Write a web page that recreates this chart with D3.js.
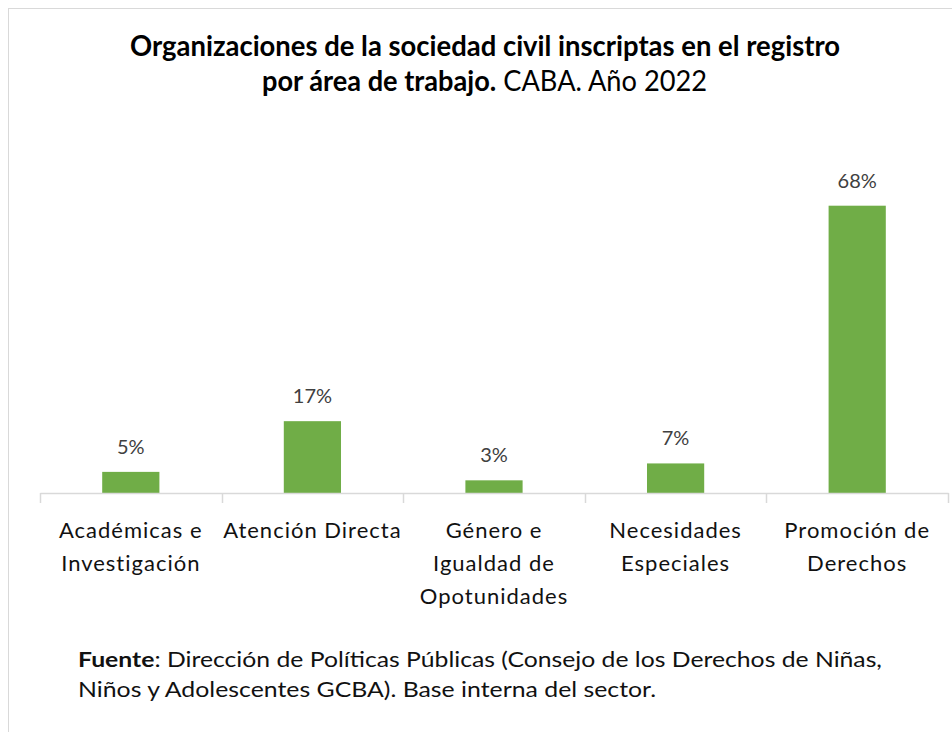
<!DOCTYPE html>
<html>
<head>
<meta charset="utf-8">
<script src="https://cdn.jsdelivr.net/npm/d3@7"></script>
<style>
  body { margin: 0; background: #fff; }
  svg { display: block; font-family: Lato, "Open Sans", sans-serif; }
</style>
</head>
<body>
<div id="chart"></div>
<script>
const categories = [
    ["Académicas e", "Investigación"],
    ["Atención Directa"],
    ["Género e", "Igualdad de", "Opotunidades"],
    ["Necesidades", "Especiales"],
    ["Promoción de", "Derechos"],
];
const values = [0.05, 0.17, 0.03, 0.07, 0.68];
const valueLabels = ["5%", "17%", "3%", "7%", "68%"];

const width = 952;
const height = 732;
const marginLeft = 40;
const marginRight = 4;
const plotTop = 155;
const baseline = 493;

const barColor = "#70ad47";
const gridColor = "#d9d9d9";

const svg = d3.select("#chart")
    .append("svg")
    .attr("width", width)
    .attr("height", height);

// chart area border (cut by the screenshot on right/bottom)
svg.append("rect")
    .attr("x", 8.5)
    .attr("y", 8.5)
    .attr("width", width + 20)
    .attr("height", height + 20)
    .attr("fill", "none")
    .attr("stroke", gridColor)
    .attr("stroke-width", 1);

// title
const title = svg.append("g").attr("font-weight", "bold").attr("fill", "#000");
title.append("text")
    .attr("x", 130)
    .attr("y", 56)
    .style("font-size", "28px")
    .attr("textLength", 710)
    .attr("lengthAdjust", "spacingAndGlyphs")
    .text("Organizaciones de la sociedad civil inscriptas en el registro");

const t2 = title.append("text")
    .attr("x", 262)
    .attr("y", 91)
    .style("font-size", "28px")
    .attr("textLength", 445)
    .attr("lengthAdjust", "spacingAndGlyphs");
t2.append("tspan").text("por área de trabajo.");
t2.append("tspan").attr("font-weight", "normal").text(" CABA. Año 2022");

// scales
const x = d3.scaleBand()
    .domain(d3.range(categories.length))
    .range([marginLeft, width - marginRight]);

const y = d3.scaleLinear()
    .domain([0, 0.8])
    .range([baseline, plotTop]);

const barWidth = x.bandwidth() * 0.315;

// bars
svg.append("g")
    .selectAll("rect")
    .data(values)
    .join("rect")
    .attr("x", (d, i) => x(i) + (x.bandwidth() - barWidth) / 2)
    .attr("y", (d) => y(d))
    .attr("width", barWidth)
    .attr("height", (d) => baseline - y(d))
    .attr("fill", barColor);

// value labels
svg.append("g")
    .selectAll("text")
    .data(values)
    .join("text")
    .attr("x", (d, i) => x(i) + x.bandwidth() / 2)
    .attr("y", (d) => y(d) - 18)
    .attr("text-anchor", "middle")
    .style("font-size", "20px")
    .attr("fill", "#404040")
    .text((d, i) => valueLabels[i]);

// x axis
const axis = svg.append("g")
    .attr("transform", `translate(0,${baseline})`)
    .call(d3.axisBottom(x).tickSize(0).tickFormat(""));
axis.select(".domain")
    .attr("stroke", gridColor)
    .attr("stroke-width", 1.5);

// band boundary ticks
svg.append("g")
    .selectAll("line")
    .data(d3.range(categories.length + 1))
    .join("line")
    .attr("x1", (i) => Math.round(i < categories.length ? x(i) : x(i - 1) + x.bandwidth()) + 0.5)
    .attr("x2", (i) => Math.round(i < categories.length ? x(i) : x(i - 1) + x.bandwidth()) + 0.5)
    .attr("y1", baseline)
    .attr("y2", baseline + 10)
    .attr("stroke", gridColor)
    .attr("stroke-width", 1.5);

// category labels
const catLabels = svg.append("g")
    .selectAll("text")
    .data(categories)
    .join("text")
    .attr("text-anchor", "middle")
    .attr("fill", "#111")
    .style("font-size", "22px")
    .style("letter-spacing", "1px");

catLabels.selectAll("tspan")
    .data((d, i) => d.map((line) => ({ line, i })))
    .join("tspan")
    .attr("x", (d) => x(d.i) + x.bandwidth() / 2)
    .attr("y", (d, j) => 538 + j * 33)
    .text((d) => d.line);

// source note
const note = svg.append("g")
    .attr("fill", "#111")
    .style("font-size", "21px")
    .style("white-space", "pre");
const n1 = note.append("text")
    .attr("x", 78)
    .attr("y", 667)
    .attr("textLength", 804)
    .attr("lengthAdjust", "spacingAndGlyphs");
n1.append("tspan").attr("font-weight", "bold").text("Fuente");
n1.append("tspan").text(": Dirección de Políticas Públicas (Consejo de los Derechos de Niñas,");

note.append("text")
    .attr("x", 78)
    .attr("y", 697)
    .attr("textLength", 578)
    .attr("lengthAdjust", "spacingAndGlyphs")
    .text("Niños y Adolescentes GCBA).  Base interna del sector.");
</script>
</body>
</html>
